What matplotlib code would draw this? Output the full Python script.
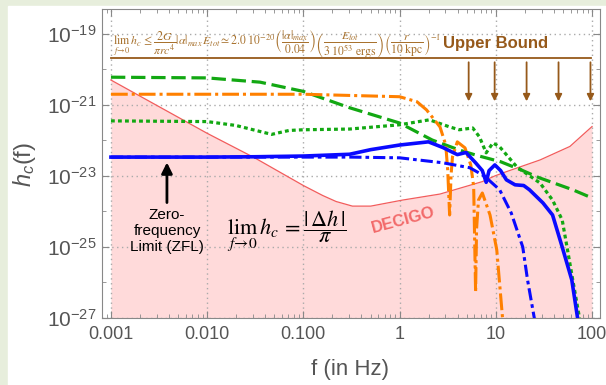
import numpy as np
import matplotlib.pyplot as plt
from matplotlib.patches import Rectangle

plt.rcParams['font.family'] = ['Liberation Sans', 'DejaVu Sans']
plt.rcParams['mathtext.fontset'] = 'custom'
plt.rcParams['mathtext.rm'] = 'Liberation Sans'
plt.rcParams['mathtext.it'] = 'Liberation Sans:italic'
plt.rcParams['mathtext.bf'] = 'Liberation Sans:bold'

# all values are log10(f / Hz) and log10(h_c)
decigo_logf = [-3, -2, -1.5, -1.0, -0.8, -0.66, -0.49, -0.3, 0.03, 0.42, 0.86, 0.99, 1.11, 1.46, 1.77, 2.0]
decigo_logh = [-20.30, -21.80, -22.50, -23.27, -23.55, -23.72, -23.85, -23.85, -23.68, -23.51, -23.16, -23.0, -22.88, -22.55, -22.17, -21.61]

blue_logf = [-3, -2, -1.5, -1.0, -0.52, -0.3, 0.0, 0.3, 0.45, 0.6, 0.69, 0.79, 0.86, 0.90, 0.93, 0.99, 1.05, 1.11,
             1.2, 1.29, 1.35, 1.49, 1.59, 1.69, 1.79, 1.85, 1.87]
blue_logh = [-22.47, -22.47, -22.46, -22.44, -22.39, -22.26, -22.13, -22.04, -22.2, -22.40, -22.34, -22.63, -22.85,
             -23.18, -22.85, -22.69, -22.85, -23.11, -23.25, -23.27, -23.39, -23.76, -24.1, -25.0, -25.93, -27.0, -27.5]

blue_dd_logf = [-3, -0.5, 0.0, 0.45, 0.73, 0.88, 1.04, 1.16, 1.28, 1.33, 1.40, 1.42]
blue_dd_logh = [-22.47, -22.47, -22.49, -22.63, -22.77, -23.0, -23.39, -24.04, -25.0, -25.93, -27.0, -27.5]

green_dash_logf = [-3, -2, -1.45, -1.0, -0.52, 0.0, 0.34, 0.62, 0.8, 1.05, 1.28, 1.45, 1.8, 2.0]
green_dash_logh = [-20.22, -20.24, -20.36, -20.62, -21.08, -21.51, -21.99, -22.27, -22.42, -22.6, -22.85, -23.05, -23.39, -23.62]

green_dot_logf = [-3, -2, -1.7, -1.33, -1.15, -1.0, -0.52, 0.0, 0.31, 0.52, 0.62, 0.76, 0.83, 0.90, 0.97, 1.04,
                  1.22, 1.46, 1.59, 1.69, 1.74, 1.80, 1.87, 1.89]
green_dot_logh = [-21.45, -21.47, -21.58, -21.83, -21.72, -21.70, -21.68, -21.56, -21.42, -21.62, -21.70, -21.65,
                  -21.90, -22.35, -22.07, -22.18, -22.75, -23.20, -23.68, -24.24, -25.0, -25.93, -27.0, -27.5]

orange_logf = [-3, -1, 0.0, 0.18, 0.28, 0.42, 0.48, 0.50, 0.52, 0.535, 0.55, 0.60, 0.68, 0.74, 0.77, 0.79, 0.80,
               0.82, 0.86, 0.94, 1.01, 1.07, 1.08]
orange_logh = [-20.70, -20.70, -20.77, -20.91, -21.14, -21.62, -22.13, -22.83, -24.10, -22.97, -22.46, -22.04,
               -22.21, -22.69, -23.3, -26.27, -24.5, -23.68, -23.48, -24.10, -25.08, -27.0, -27.5]

arrow_logf = [0.718, 0.988, 1.32, 1.652, 1.984]

x_ticks = [0.001, 0.01, 0.1, 1, 10, 100]
x_labels = ['0.001', '0.010', '0.100', '1', '10', '100']
y_exps = [-27, -25, -23, -21, -19]

brown = '#96591a'

fig = plt.figure(figsize=(6.06, 3.85), dpi=100, facecolor='#e7eedc')
fig.patches.append(Rectangle((8 / 606, 0), 1, 1 - 6 / 385, transform=fig.transFigure,
                             color='white', zorder=-1))
ax = fig.add_axes([102 / 606, 1 - 318 / 385, 498 / 606, 309 / 385])

def tenpow(v):
    return np.power(10.0, np.array(v))

ax.fill_between(tenpow(decigo_logf), tenpow(decigo_logh), 1e-30, color='#ffdada', lw=0)
ax.plot(tenpow(decigo_logf), tenpow(decigo_logh), color='#f25c5c', lw=0.9, zorder=2)

ax.plot(tenpow(green_dash_logf), tenpow(green_dash_logh), color='#12a812', lw=2.3, dashes=(4.5, 1.8), zorder=3)
ax.plot(tenpow(green_dot_logf), tenpow(green_dot_logh), color='#12a812', lw=2.3, dashes=(1.2, 1.0), zorder=3)
ax.plot(tenpow(orange_logf), tenpow(orange_logh), color='#ff8000', lw=2.2, dashes=(5.5, 1.3, 1.0, 1.3), zorder=3)
ax.plot(tenpow(blue_dd_logf), tenpow(blue_dd_logh), color='#0a0aff', lw=2.2, dashes=(4.0, 1.3, 1.2, 1.3), zorder=4)
ax.plot(tenpow(blue_logf), tenpow(blue_logh), color='#0a0aff', lw=2.6, zorder=5)

# upper bound line and arrows
ax.plot([1e-3, 10 ** 1.99], [10 ** -19.68, 10 ** -19.68], color=brown, lw=1.3, zorder=3)
for lf in arrow_logf:
    ax.annotate('', xy=(10 ** lf, 10 ** -20.90), xytext=(10 ** lf, 10 ** -19.80),
                arrowprops=dict(arrowstyle='-|>', color=brown, lw=1.3, mutation_scale=10,
                                shrinkA=0, shrinkB=0))
ax.text(10 ** 0.447, 10 ** -19.28, 'Upper Bound', color=brown, fontsize=12, fontweight='bold',
        ha='left', va='center')
ax.text(10 ** -2.98, 10 ** -19.30,
        r'$\lim_{f\to 0}\, h_c \leq \dfrac{2G}{\pi r c^4}|\alpha|_{max}\, E_{tot} \simeq 2.0\ 10^{-20}'
        r'\left(\dfrac{|\alpha|_{max}}{0.04}\right)\left(\dfrac{E_{tot}}{3\ 10^{53}\ \mathrm{ergs}}\right)'
        r'\left(\dfrac{r}{10\ \mathrm{kpc}}\right)^{-1}$',
        color='#a8722e', fontsize=8.5, ha='left', va='center', math_fontfamily='stix')

# zero-frequency limit
ax.annotate('', xy=(10 ** -2.418, 10 ** -22.62), xytext=(10 ** -2.418, 10 ** -23.75),
            arrowprops=dict(arrowstyle='-|>', color='black', lw=2, mutation_scale=16,
                            shrinkA=0, shrinkB=0))
ax.text(10 ** -2.418, 10 ** -24.55, 'Zero-\nfrequency\nLimit (ZFL)', fontsize=11, ha='center',
        va='center', linespacing=1.15)
ax.text(10 ** -1.795, 10 ** -24.55, r'$\lim_{f\to 0}\, h_c = \dfrac{|\,\Delta h\,|}{\pi}$', fontsize=16,
        ha='left', va='center', math_fontfamily='stix')
ax.text(10 ** 0.043, 10 ** -24.26, 'DECIGO', color='#f26a6a', fontsize=12, fontweight='bold',
        ha='center', va='center', rotation=15)

ax.set_xscale('log')
ax.set_yscale('log')
ax.set_xlim(10 ** -3.093, 10 ** 2.083)
ax.set_ylim(1e-27, 10 ** -18.3)
ax.set_xticks(x_ticks)
ax.set_xticklabels(x_labels)
ax.set_yticks([10.0 ** e for e in y_exps])
ax.set_yticklabels([r'$10^{%d}$' % e for e in y_exps])
ax.set_yticks([10.0 ** e for e in range(-26, -18, 2)], minor=True)
ax.yaxis.set_minor_formatter(plt.NullFormatter())
ax.tick_params(which='both', direction='in', top=True, right=True, colors='#888888', labelcolor='#555555')
ax.tick_params(axis='x', which='major', labelsize=13, length=5, pad=6)
ax.tick_params(axis='y', which='major', labelsize=15, length=5, pad=4)
ax.tick_params(which='minor', length=3)
for s in ax.spines.values():
    s.set_color('#888888')
ax.set_axisbelow('line')
ax.grid(which='major', color='#aaaaaa', lw=1, linestyle=(0, (1, 2.5)))

fig.text(25 / 606, 1 - 165 / 385, r'$h_c$(f)', rotation=90, fontsize=17, color='#555555',
         ha='center', va='center')
fig.text(350 / 606, 1 - 370 / 385, 'f (in Hz)', fontsize=16, color='#555555', ha='center', va='center')

fig.savefig('out.png', dpi=100, facecolor=fig.get_facecolor())
